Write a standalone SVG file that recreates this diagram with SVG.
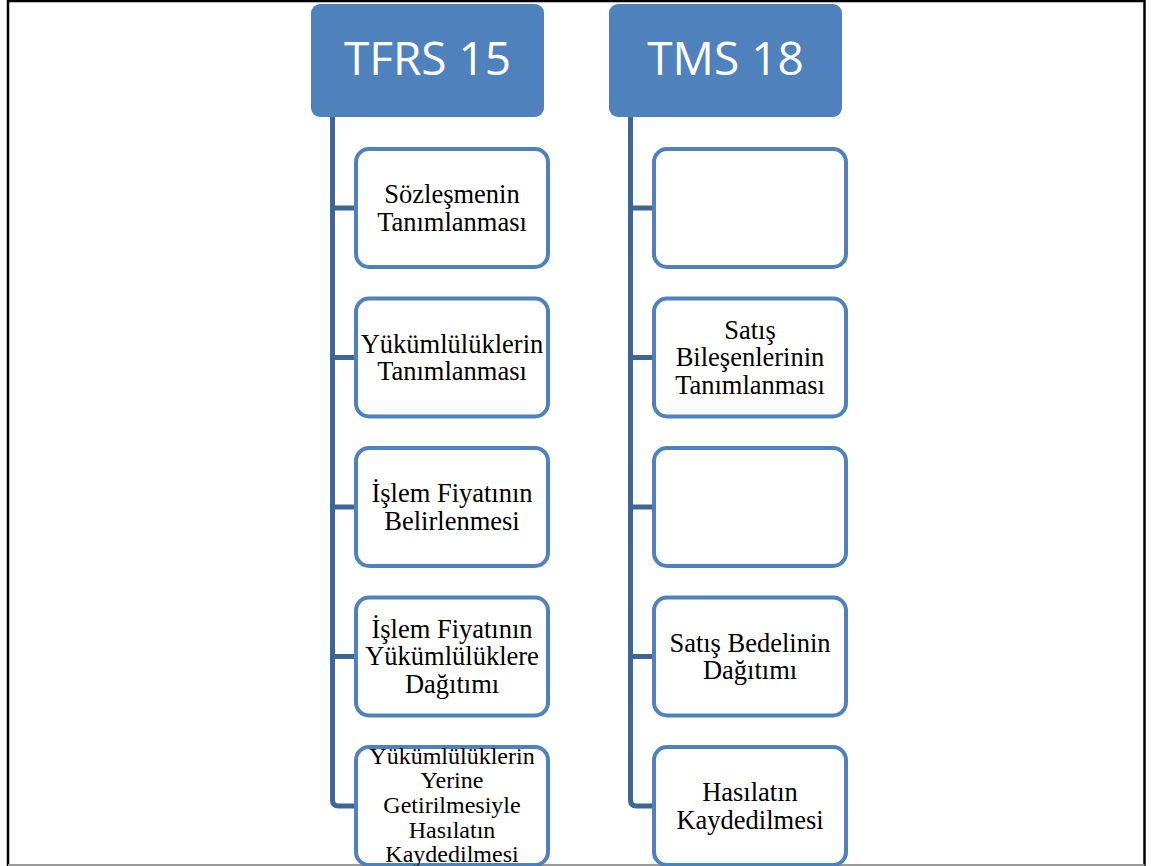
<svg xmlns="http://www.w3.org/2000/svg" width="1152" height="866" viewBox="0 0 1152 866">
<style>
.hdr{fill:#4F81BD;}
.hdrt{fill:#FFFFFF;font-family:"Open Sans","Liberation Sans",sans-serif;font-size:46px;text-anchor:middle;}
.box{fill:#FFFFFF;stroke:#4F81BD;stroke-width:4;}
.t{fill:#000000;font-family:"Liberation Serif","Times New Roman",serif;font-size:26.5px;text-anchor:middle;}
.t5{font-size:24px;}
.con{fill:none;stroke:#3D6596;stroke-width:5;stroke-linejoin:round;}
</style>
<rect x="0" y="0" width="1152" height="866" fill="#FFFFFF"/>
<g id="frame">
<line x1="8" y1="1" x2="1144.5" y2="1" stroke="#000" stroke-width="2.5"/>
<line x1="8" y1="0" x2="8" y2="866" stroke="#000" stroke-width="2.5"/>
<line x1="1144.5" y1="0" x2="1144.5" y2="866" stroke="#000" stroke-width="2.5"/>
<line x1="8" y1="865" x2="1144.5" y2="865" stroke="#9A9A9A" stroke-width="2"/>
</g>
<g id="connectors">
<path class="con" d="M332.5,117 V800 Q332.5,806 338.5,806 H356"/>
<path class="con" d="M332.5,208 H356 M332.5,357.5 H356 M332.5,507 H356 M332.5,656.5 H356"/>
<path class="con" d="M630.5,117 V800 Q630.5,806 636.5,806 H654"/>
<path class="con" d="M630.5,208 H654 M630.5,357.5 H654 M630.5,507 H654 M630.5,656.5 H654"/>
</g>
<g id="tfrs15">
<rect class="hdr" x="311" y="4" width="233" height="113" rx="9"/>
<text class="hdrt" x="427.5" y="75">TFRS 15</text>
</g>
<g id="tms18">
<rect class="hdr" x="609" y="4" width="233" height="113" rx="9"/>
<text class="hdrt" x="725.5" y="75">TMS 18</text>
</g>
<g id="tfrs-1">
<rect class="box" x="356" y="149" width="192" height="118" rx="13"/>
<text class="t" x="452" y="203">Sözleşmenin</text>
<text class="t" x="452" y="230.5">Tanımlanması</text>
</g>
<g id="tfrs-2">
<rect class="box" x="356" y="298.5" width="192" height="118" rx="13"/>
<text class="t" x="452" y="352.5">Yükümlülüklerin</text>
<text class="t" x="452" y="380">Tanımlanması</text>
</g>
<g id="tfrs-3">
<rect class="box" x="356" y="448" width="192" height="118" rx="13"/>
<text class="t" x="452" y="502">İşlem Fiyatının</text>
<text class="t" x="452" y="529.5">Belirlenmesi</text>
</g>
<g id="tfrs-4">
<rect class="box" x="356" y="597.5" width="192" height="118" rx="13"/>
<text class="t" x="452" y="637.5">İşlem Fiyatının</text>
<text class="t" x="452" y="665">Yükümlülüklere</text>
<text class="t" x="452" y="692.5">Dağıtımı</text>
</g>
<g id="tfrs-5">
<rect class="box" x="356" y="747" width="192" height="118" rx="13"/>
<text class="t t5" x="452" y="763.6">Yükümlülüklerin</text>
<text class="t t5" x="452" y="788.3">Yerine</text>
<text class="t t5" x="452" y="813">Getirilmesiyle</text>
<text class="t t5" x="452" y="837.7">Hasılatın</text>
<text class="t t5" x="452" y="862.4">Kaydedilmesi</text>
</g>
<g id="tms-1">
<rect class="box" x="654" y="149" width="192" height="118" rx="13"/>
</g>
<g id="tms-2">
<rect class="box" x="654" y="298.5" width="192" height="118" rx="13"/>
<text class="t" x="750" y="338.5">Satış</text>
<text class="t" x="750" y="366">Bileşenlerinin</text>
<text class="t" x="750" y="393.5">Tanımlanması</text>
</g>
<g id="tms-3">
<rect class="box" x="654" y="448" width="192" height="118" rx="13"/>
</g>
<g id="tms-4">
<rect class="box" x="654" y="597.5" width="192" height="118" rx="13"/>
<text class="t" x="750" y="651.5">Satış Bedelinin</text>
<text class="t" x="750" y="679">Dağıtımı</text>
</g>
<g id="tms-5">
<rect class="box" x="654" y="747" width="192" height="118" rx="13"/>
<text class="t" x="750" y="801">Hasılatın</text>
<text class="t" x="750" y="828.5">Kaydedilmesi</text>
</g>
</svg>
